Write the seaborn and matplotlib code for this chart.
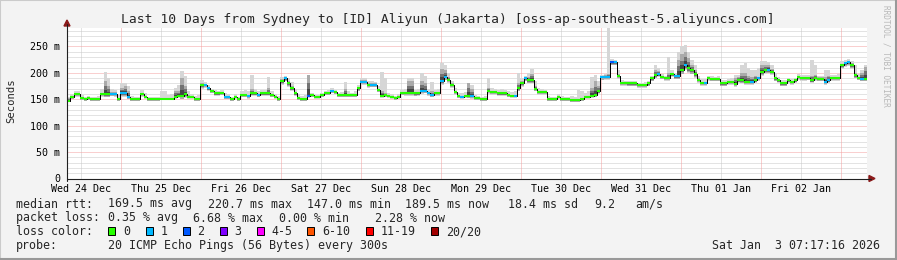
import numpy as np
import matplotlib
matplotlib.use("Agg")
import matplotlib.pyplot as plt
import seaborn as sns
from matplotlib.patches import Rectangle, Polygon
from matplotlib.lines import Line2D

# ---------------- data (hourly, 10 days) ----------------
median_ms = [
    147, 155, 160, 160, 152, 150, 152, 150, 150, 150, 160, 160, 160, 160, 160, 150, 162, 162, 155, 150, 150, 150, 160, 155,
    150, 150, 150, 150, 151, 151, 151, 151, 155, 157, 157, 160, 155, 155, 150, 150, 177, 177, 171, 165, 161, 161, 162, 155,
    155, 150, 155, 150, 158, 158, 156, 161, 161, 158, 161, 161, 161, 158, 155, 150, 185, 190, 180, 171, 161, 152, 150, 150,
    157, 158, 155, 155, 158, 162, 162, 166, 164, 158, 158, 158, 158, 158, 158, 171, 183, 183, 177, 178, 178, 168, 157, 158,
    157, 155, 152, 155, 162, 162, 162, 162, 161, 161, 166, 166, 162, 158, 162, 162, 185, 193, 187, 177, 164, 156, 155, 157,
    157, 156, 152, 152, 150, 150, 166, 164, 164, 161, 161, 161, 158, 157, 157, 171, 180, 190, 186, 186, 170, 164, 164, 164,
    150, 150, 150, 155, 150, 150, 150, 149, 149, 149, 150, 155, 155, 157, 158, 165, 193, 193, 193, 221, 221, 195, 181, 181,
    180, 180, 180, 177, 177, 177, 180, 190, 196, 198, 193, 190, 190, 198, 194, 194, 205, 215, 209, 205, 198, 187, 181, 181,
    190, 189, 189, 189, 180, 180, 183, 183, 179, 186, 186, 183, 183, 183, 186, 191, 202, 205, 206, 202, 190, 186, 180, 180,
    186, 183, 186, 193, 190, 190, 191, 186, 190, 189, 189, 183, 186, 190, 190, 190, 215, 218, 220, 215, 196, 191, 189, 189,
]
loss_count = [
    0, 0, 0, 0, 0, 0, 0, 0, 0, 0, 0, 0, 0, 1, 1, 0, 1, 1, 1, 0, 0, 0, 0, 0,
    0, 0, 0, 0, 0, 0, 0, 0, 0, 0, 0, 0, 0, 0, 0, 0, 0, 1, 1, 0, 0, 0, 0, 1,
    1, 0, 0, 0, 0, 0, 1, 0, 0, 1, 0, 0, 0, 0, 0, 0, 0, 1, 0, 0, 0, 0, 0, 0,
    2, 0, 0, 0, 0, 0, 0, 1, 0, 0, 0, 0, 0, 0, 0, 0, 1, 1, 0, 1, 1, 0, 0, 0,
    0, 0, 0, 0, 0, 0, 0, 0, 0, 0, 1, 1, 1, 1, 0, 0, 1, 1, 0, 0, 0, 0, 1, 0,
    0, 1, 0, 0, 0, 0, 0, 0, 0, 0, 0, 0, 0, 0, 1, 0, 0, 1, 0, 0, 0, 0, 0, 0,
    0, 0, 0, 0, 0, 0, 0, 0, 0, 0, 0, 0, 0, 0, 0, 0, 1, 1, 1, 2, 1, 0, 0, 0,
    0, 0, 0, 0, 0, 0, 0, 0, 0, 1, 0, 0, 0, 0, 1, 1, 0, 1, 0, 0, 0, 0, 0, 1,
    0, 0, 0, 0, 0, 0, 0, 0, 0, 0, 0, 0, 0, 1, 0, 1, 0, 0, 1, 0, 0, 0, 0, 0,
    0, 0, 0, 0, 0, 0, 0, 0, 0, 0, 0, 1, 1, 0, 0, 0, 0, 1, 1, 0, 0, 0, 1, 0,
]
ping_hi = [
    155, 160, 165, 165, 158, 155, 157, 155, 155, 156, 170, 202, 190, 170, 168, 158, 180, 180, 175, 157, 155, 155, 168, 162,
    155, 155, 155, 155, 166, 166, 158, 160, 172, 177, 204, 195, 165, 160, 157, 158, 187, 182, 178, 170, 167, 166, 168, 162,
    160, 155, 160, 155, 165, 168, 166, 196, 170, 166, 168, 168, 193, 165, 160, 156, 193, 195, 190, 182, 170, 160, 156, 158,
    196, 162, 158, 158, 162, 166, 168, 172, 168, 162, 163, 183, 165, 162, 165, 178, 190, 190, 185, 185, 183, 175, 202, 190,
    162, 160, 157, 160, 168, 170, 190, 190, 168, 170, 200, 195, 170, 183, 168, 170, 218, 215, 200, 185, 172, 162, 162, 163,
    180, 178, 158, 156, 155, 156, 190, 172, 170, 168, 170, 168, 165, 163, 165, 200, 190, 195, 200, 207, 185, 172, 170, 168,
    156, 155, 155, 160, 156, 155, 155, 156, 155, 168, 165, 162, 165, 193, 196, 185, 196, 198, 285, 226, 224, 205, 186, 185,
    184, 184, 184, 181, 181, 182, 185, 195, 215, 210, 198, 195, 231, 205, 200, 240, 250, 252, 240, 225, 215, 195, 188, 188,
    195, 194, 193, 194, 186, 186, 188, 190, 196, 196, 215, 219, 210, 205, 205, 210, 222, 222, 220, 215, 200, 192, 186, 186,
    191, 189, 191, 198, 196, 196, 196, 225, 215, 195, 195, 205, 205, 196, 196, 197, 222, 225, 226, 222, 215, 197, 205, 215,
]
ping_mid = [
    152, 157, 162, 162, 154, 152, 154, 152, 152, 152, 162, 185, 175, 163, 163, 152, 172, 175, 165, 152, 152, 152, 162, 157,
    152, 152, 152, 152, 153, 153, 153, 153, 165, 165, 190, 175, 158, 157, 152, 152, 180, 179, 173, 167, 163, 163, 164, 157,
    157, 152, 157, 152, 160, 160, 158, 170, 163, 160, 163, 163, 172, 160, 157, 152, 188, 192, 185, 176, 163, 154, 152, 153,
    196, 160, 157, 157, 160, 164, 164, 168, 166, 160, 160, 170, 160, 160, 160, 173, 186, 186, 180, 181, 180, 170, 165, 162,
    159, 157, 154, 157, 164, 164, 185, 185, 163, 163, 185, 180, 164, 165, 164, 164, 208, 205, 192, 180, 166, 158, 157, 159,
    180, 170, 154, 154, 152, 152, 172, 166, 166, 163, 163, 163, 160, 159, 159, 180, 185, 192, 192, 198, 175, 166, 166, 166,
    152, 152, 152, 157, 152, 152, 152, 151, 151, 151, 152, 157, 157, 172, 185, 175, 195, 196, 198, 223, 223, 198, 183, 183,
    182, 182, 182, 179, 179, 179, 182, 192, 205, 203, 195, 192, 200, 197, 196, 225, 235, 240, 228, 215, 205, 190, 183, 183,
    192, 191, 191, 191, 182, 182, 185, 185, 190, 192, 200, 200, 195, 192, 195, 193, 215, 215, 214, 208, 192, 188, 182, 182,
    188, 185, 188, 195, 192, 192, 193, 195, 196, 192, 192, 192, 195, 192, 192, 192, 217, 220, 222, 218, 200, 193, 200, 212,
]
ping_lo = [
    146, 150, 155, 155, 149, 147, 149, 147, 147, 147, 155, 154, 154, 156, 155, 147, 155, 155, 150, 147, 147, 147, 155, 151,
    147, 147, 147, 147, 148, 148, 148, 148, 151, 153, 150, 153, 151, 151, 147, 147, 170, 172, 166, 161, 157, 157, 158, 150,
    150, 147, 151, 147, 154, 154, 151, 157, 157, 154, 157, 157, 157, 154, 151, 147, 178, 184, 174, 166, 157, 148, 147, 146,
    153, 154, 151, 151, 154, 158, 158, 161, 160, 154, 154, 154, 154, 154, 154, 165, 177, 177, 172, 173, 173, 163, 153, 154,
    153, 151, 148, 151, 158, 157, 157, 157, 156, 157, 160, 161, 157, 154, 157, 157, 178, 186, 181, 172, 159, 152, 151, 153,
    152, 151, 148, 148, 147, 147, 160, 159, 159, 157, 157, 157, 154, 153, 153, 165, 174, 184, 180, 180, 165, 159, 159, 159,
    146, 146, 146, 151, 146, 146, 146, 145, 145, 145, 146, 151, 151, 153, 154, 160, 186, 187, 187, 214, 214, 188, 176, 176,
    175, 175, 175, 172, 172, 172, 175, 184, 190, 192, 188, 185, 185, 192, 188, 188, 197, 205, 200, 197, 191, 181, 176, 176,
    185, 184, 184, 184, 175, 175, 178, 178, 174, 181, 180, 178, 178, 178, 181, 185, 195, 198, 199, 196, 184, 181, 175, 175,
    181, 178, 181, 187, 185, 185, 186, 181, 185, 184, 184, 178, 181, 185, 185, 185, 208, 211, 213, 208, 190, 186, 184, 184,
]
day_labels = ["Wed 24 Dec", "Thu 25 Dec", "Fri 26 Dec", "Sat 27 Dec", "Sun 28 Dec",
              "Mon 29 Dec", "Tue 30 Dec", "Wed 31 Dec", "Thu 01 Jan", "Fri 02 Jan"]
first_midnight_h = 16.3          # hours from graph start to first midnight
y_ticks = [0, 50, 100, 150, 200, 250]
y_labels = ["0", "50 m", "100 m", "150 m", "200 m", "250 m"]
loss_classes = ["0", "1", "2", "3", "4-5", "6-10", "11-19", "20/20"]
loss_colors = ["#26ff00", "#00b8ff", "#0059ff", "#7e00ff", "#ff00ff", "#ff5500", "#ff0000", "#a10000"]
title = "Last 10 Days from Sydney to [ID] Aliyun (Jakarta) [oss-ap-southeast-5.aliyuncs.com]"
stat_rows = [
    ("median rtt:", ["169.5 ms avg", "220.7 ms max", "147.0 ms min", "189.5 ms now", "18.4 ms sd", "9.2", "am/s"]),
    ("packet loss:", ["0.35 % avg", "6.68 % max", "0.00 % min", "2.28 % now"]),
]
probe_text = "20 ICMP Echo Pings (56 Bytes) every 300s"
stamp_text = "Sat Jan  3 07:17:16 2026"

# ---------------- figure ----------------
sns.set_style("white")
plt.rcParams['font.family'] = ['DejaVu Sans Mono']

W, H = 897, 260
fig = plt.figure(figsize=(W / 100, H / 100), dpi=100, facecolor='#f3f3f3')


def fx(px):
    return px / W


def fy(py):
    return 1 - py / H


X0, X1 = 67, 867
Y0, YT = 178.5, 28.0
ymax = 285.0
ax = fig.add_axes([fx(X0), fy(Y0), (X1 - X0) / W, (Y0 - YT) / H])
n = len(median_ms)
ax.set_xlim(0, n)
ax.set_ylim(0, ymax)
ax.set_facecolor('white')
for s in ax.spines.values():
    s.set_visible(False)

# grid
minor_col = '#c8c8c8'
major_col = '#f4a0a0'
dot = (0, (1, 1))
for v in range(10, int(ymax) + 1, 10):
    if v % 50:
        ax.axhline(v, color=minor_col, lw=0.72, ls=dot, zorder=0)
for v in y_ticks[1:]:
    ax.axhline(v, color=major_col, lw=0.72, ls=dot, zorder=0.5)
mids = np.arange(first_midnight_h, n, 24)
noons = np.arange(first_midnight_h - 12, n, 24)
for v in noons:
    if v > 0:
        ax.axvline(v, color=minor_col, lw=0.72, ls=dot, zorder=0)
for v in mids:
    ax.axvline(v, color=major_col, lw=0.72, ls=dot, zorder=0.5)

# smoke
xe = np.arange(n + 1)
def ext(a):
    a = np.asarray(a, float)
    return np.append(a, a[-1])
med = ext(median_ms); hi = ext(ping_hi); mid = ext(ping_mid); lo = ext(ping_lo)
ax.fill_between(xe, lo, hi, step='post', color='#d6d6d6', lw=0, zorder=1)
ax.fill_between(xe, med - 0.8 * (med - lo), mid, step='post', color='#aaaaaa', lw=0, zorder=1.1)
ax.fill_between(xe, med - 0.5 * (med - lo), med + 0.6 * (mid - med), step='post', color='#737373', lw=0, zorder=1.2)
ax.fill_between(xe, med - 0.25 * (med - lo), med + 0.3 * (mid - med), step='post', color='#454545', lw=0, zorder=1.3)

# median line (black step) + loss coloured segments
sns.lineplot(x=xe, y=med, drawstyle='steps-post', color='black', lw=0.72, ax=ax, zorder=2)
seg_cols = [loss_colors[c] for c in loss_count]
ax.hlines(median_ms, xe[:-1], xe[1:], colors=seg_cols, lw=1.5, zorder=3)

# ticks / labels
ax.set_yticks(y_ticks, y_labels)
ax.set_xticks(noons, day_labels)
ax.tick_params(axis='both', length=0, labelsize=7.2, colors='black')
ax.tick_params(axis='y', pad=5)
ax.tick_params(axis='x', pad=4)
ax.set_xlabel("")
ax.set_ylabel("")

# axes lines + arrows
axis_col = '#202020'
arrow_col = '#8b1a1a'
fig.add_artist(Line2D([fx(X0), fx(871)], [fy(Y0), fy(Y0)], color=axis_col, lw=0.8))
fig.add_artist(Line2D([fx(X0), fx(X0)], [fy(181), fy(24)], color=axis_col, lw=0.8))
fig.add_artist(Polygon([[fx(869), fy(175.5)], [fx(869), fy(181.5)], [fx(875), fy(178.5)]],
                       closed=True, color=arrow_col, transform=fig.transFigure))
fig.add_artist(Polygon([[fx(64), fy(26)], [fx(70), fy(26)], [fx(67), fy(20)]],
                       closed=True, color=arrow_col, transform=fig.transFigure))

# texts
fig.text(fx(448), fy(19), title, ha='center', va='center', fontsize=9.4)
fig.text(fx(11), fy(101), "Seconds", rotation=90, ha='center', va='center', fontsize=7.6)
fig.text(fx(886), fy(5), "RRDTOOL / TOBI OETIKER", rotation=270, ha='center', va='top',
         fontsize=5.6, color='#b8b8b8')

legend_size = 8.4
cols = {
    0: [107.7, 207.7, 307.3, 405, 507.7, 594, 635],
    1: [107.7, 192.7, 279.3, 375],
}
base = [207.5, 221.5, 235.3, 249]
for r, (head, items) in enumerate(stat_rows):
    fig.text(fx(16), fy(base[r]), head, va='baseline', fontsize=legend_size)
    for xp, t in zip(cols[r], items):
        fig.text(fx(xp), fy(base[r]), t, va='baseline', fontsize=legend_size)

fig.text(fx(16), fy(base[2]), "loss color:", va='baseline', fontsize=legend_size)
box_x = [108, 145.5, 182.5, 219.5, 256.5, 307, 366, 431]
for bx, c, lab in zip(box_x, loss_colors, loss_classes):
    fig.add_artist(Rectangle((fx(bx), fy(base[2])), 7 / W, 8 / H, facecolor=c, edgecolor='black',
                             lw=0.7, transform=fig.transFigure))
    fig.text(fx(bx + 15), fy(base[2]), lab, va='baseline', fontsize=legend_size)

fig.text(fx(16), fy(base[3]), "probe:", va='baseline', fontsize=legend_size)
fig.text(fx(107.7), fy(base[3]), probe_text, va='baseline', fontsize=legend_size)
fig.text(fx(880), fy(base[3]), stamp_text, ha='right', va='baseline', fontsize=legend_size)

# frame
fig.add_artist(Line2D([0, 0, 1], [0, 1, 1], color='#cbcbcb', lw=1.5, transform=fig.transFigure))
fig.add_artist(Line2D([0, 1, 1], [fy(258.5), fy(258.5), 1], color='#999999', lw=1.5, transform=fig.transFigure))
fig.add_artist(Line2D([fx(895.5), fx(895.5)], [0, 1], color='#999999', lw=1.5, transform=fig.transFigure))

fig.savefig("out.png", dpi=100, facecolor=fig.get_facecolor())
